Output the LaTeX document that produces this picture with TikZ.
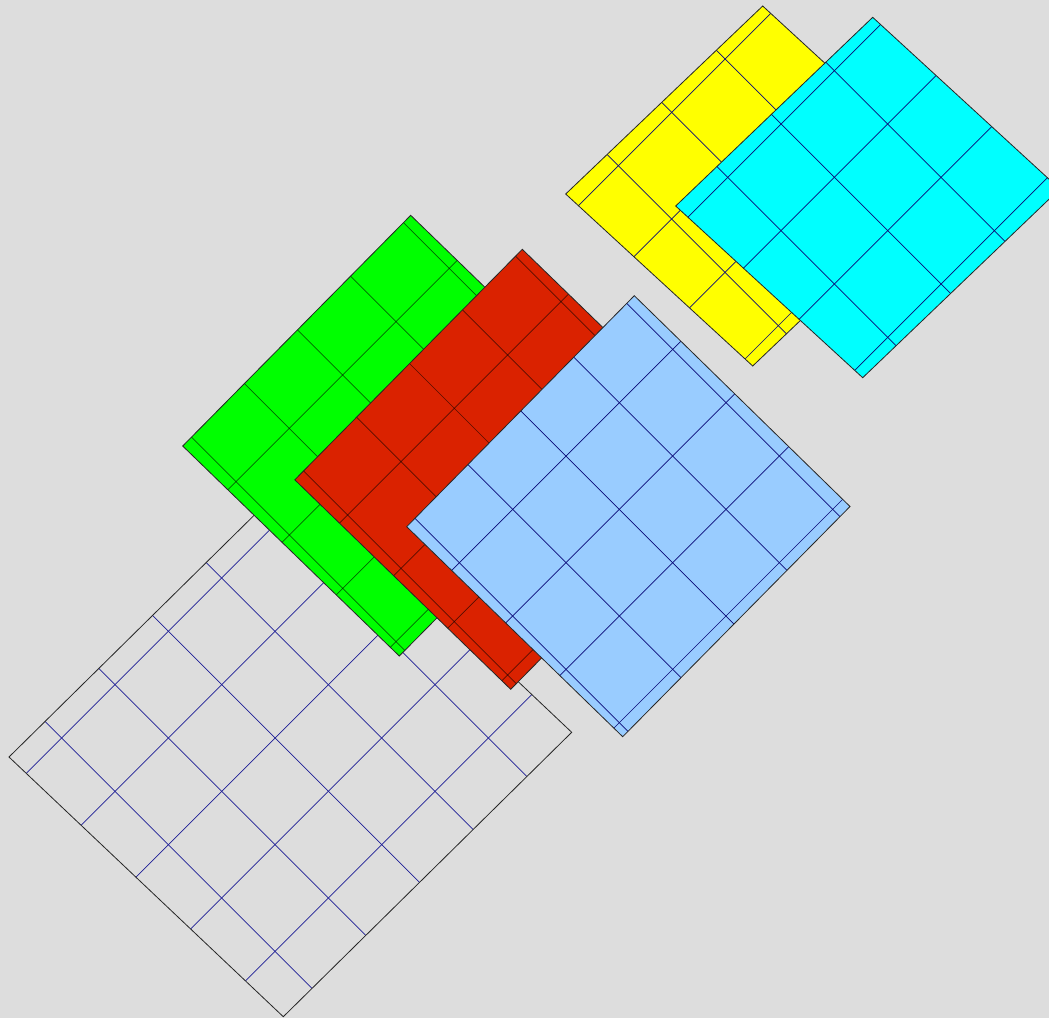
\documentclass[tikz,border=0pt]{standalone}
\usetikzlibrary{calc}
\definecolor{bgc}{HTML}{DDDDDD}
\definecolor{pgreen}{HTML}{00FF00}
\definecolor{pred}{HTML}{DA2200}
\definecolor{pblue}{HTML}{99CCFF}
\definecolor{pyellow}{HTML}{FFFF00}
\definecolor{pcyan}{HTML}{00FFFF}
\definecolor{gblue}{RGB}{30,30,150}
\definecolor{gnavy}{RGB}{10,10,120}
\tikzset{
  outline/.style={draw=black!85, line width=0.8pt, line join=miter},
  gridblue/.style={draw=gblue, line width=0.7pt},
  gridnavy/.style={draw=gnavy, line width=0.7pt},
  griddark/.style={draw=black, draw opacity=0.6, line width=0.7pt},
}
% #1 grid style, #2 origin
\newcommand{\pgrid}[2]{%
  \begin{scope}[shift={#2}]
    \foreach \n in {-8,...,8} {
      \draw[#1] (53.33*\n-426.7, 53.33*\n+426.7) -- (53.33*\n+426.7, 53.33*\n-426.7);
      \draw[#1] (53.33*\n-426.7, -53.33*\n-426.7) -- (53.33*\n+426.7, -53.33*\n+426.7);
    }
  \end{scope}}
% #1 fill, #2 grid style, #3 origin, #4-#7 corners L,T,R,B
\newcommand{\plane}[7]{%
  \begin{scope}
    \clip #4 -- #5 -- #6 -- #7 -- cycle;
    \fill[#1] #4 -- #5 -- #6 -- #7 -- cycle;
    \pgrid{#2}{#3}
  \end{scope}
  \draw[outline] #4 -- #5 -- #6 -- #7 -- cycle;}
\begin{document}
\begin{tikzpicture}[x=1pt,y=-1pt]
\useasboundingbox (0,0) rectangle (1049,1018);
\clip (0,0) rectangle (1049,1018);
\fill[bgc] (0,0) rectangle (1049,1018);
% white plane
\plane{bgc}{gridblue}{(61.7,738)}{(9,757)}{(297.4,472.6)}{(571.7,732.3)}{(283.3,1016.7)}
% green plane
\plane{pgreen}{griddark}{(236,481.7)}{(182.7,446)}{(410.7,215.3)}{(627.3,425.3)}{(399.3,656)}
% red plane
\plane{pred}{griddark}{(454.3,408.3)}{(294.8,479.8)}{(522.3,249.3)}{(738.2,458.8)}{(510.7,689.3)}
% light blue plane
\plane{pblue}{gridnavy}{(619.3,402.7)}{(406.7,526.7)}{(634.3,295.7)}{(850,506.5)}{(622.7,736.7)}
% yellow plane
\plane{pyellow}{gridnavy}{(671.7,112.3)}{(565.7,194)}{(762.7,6)}{(949.7,178)}{(752.7,366)}
% cyan plane
\plane{pcyan}{gridnavy}{(887.7,124)}{(675.7,206)}{(872.7,17.3)}{(1059.7,189)}{(862.7,377.7)}
\end{tikzpicture}
\end{document}
